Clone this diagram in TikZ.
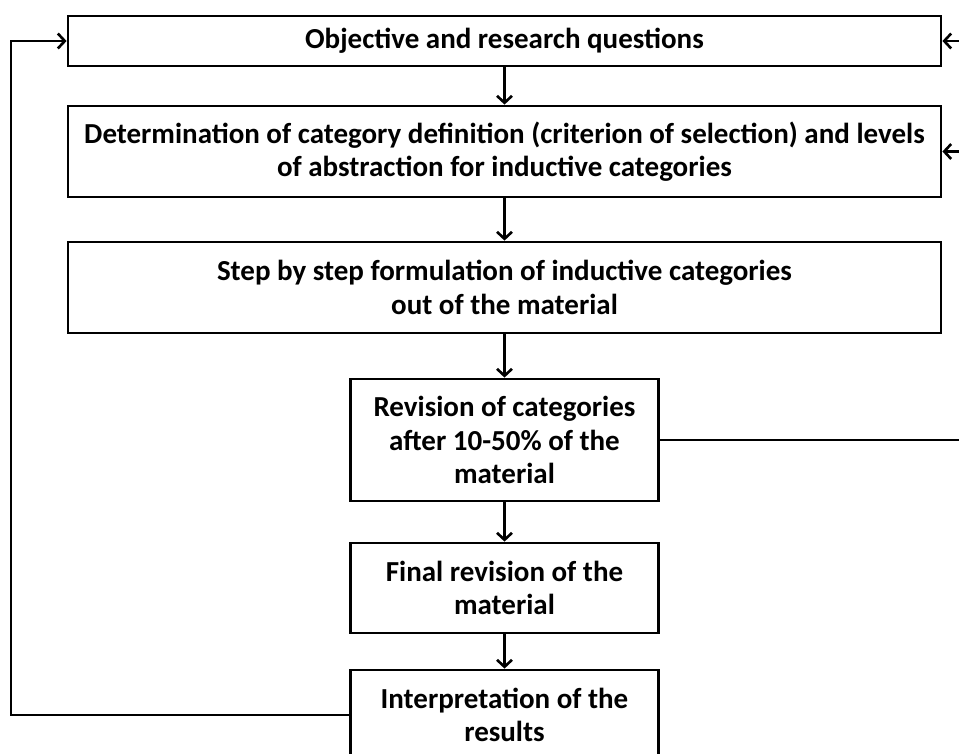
\documentclass[tikz,border=0pt]{standalone}
\usepackage{fontspec}
\setmainfont{Carlito}
\usetikzlibrary{arrows.meta}
\begin{document}
\begin{tikzpicture}[x=1pt,y=-1pt,
  box/.style={draw=black,line width=2.8pt,fill=white,align=center,
    inner sep=0pt,font=\bfseries\fontsize{29}{33.5}\selectfont},
  link/.style={line width=2.8pt,draw=black},
  arr/.style={link,-{Straight Barb[length=7pt,width=15pt,line width=2.6pt]}}]
\useasboundingbox (0,0) rectangle (959,753);
\clip (0,0) rectangle (959,753);

% process steps
\node[box,minimum width=873pt,minimum height=50pt] (b1) at (504.5,41)
  {Objective and research questions};
\node[box,minimum width=873pt,minimum height=91pt] (b2) at (504.5,151.5)
  {Determination of category definition (criterion of selection) and levels\\
   of abstraction for inductive categories};
\node[box,minimum width=873pt,minimum height=91pt] (b3) at (504.5,287.5)
  {Step by step formulation of inductive categories\\ out of the material};
\node[box,minimum width=308pt,minimum height=122pt] (b4) at (504.5,440)
  {Revision of categories\\ after 10-50\% of the\\ material};
\node[box,minimum width=308pt,minimum height=90pt] (b5) at (504.5,588)
  {Final revision of the\\ material};
\node[box,minimum width=308pt,minimum height=90pt] (b6) at (504.5,715)
  {Interpretation of the\\ results};

% main flow
\draw[arr] (b1) -- (b2);
\draw[arr] (b2) -- (b3);
\draw[arr] (b3) -- (b4);
\draw[arr] (b4) -- (b5);
\draw[arr] (b5) -- (b6);

% feedback on the right
\coordinate (r1) at (959,41);
\coordinate (r2) at (959,151.5);
\coordinate (r4) at (959,440);
\draw[link] (b4.east) -- (r4);
\draw[arr] (r1) -- (b1.east);
\draw[arr] (r2) -- (b2.east);

% feedback on the left
\coordinate (lb) at (11,715);
\coordinate (lt) at (11,41);
\draw[arr] (b6.west) -- (lb) -- (lt) -- (b1.west);
\end{tikzpicture}
\end{document}
